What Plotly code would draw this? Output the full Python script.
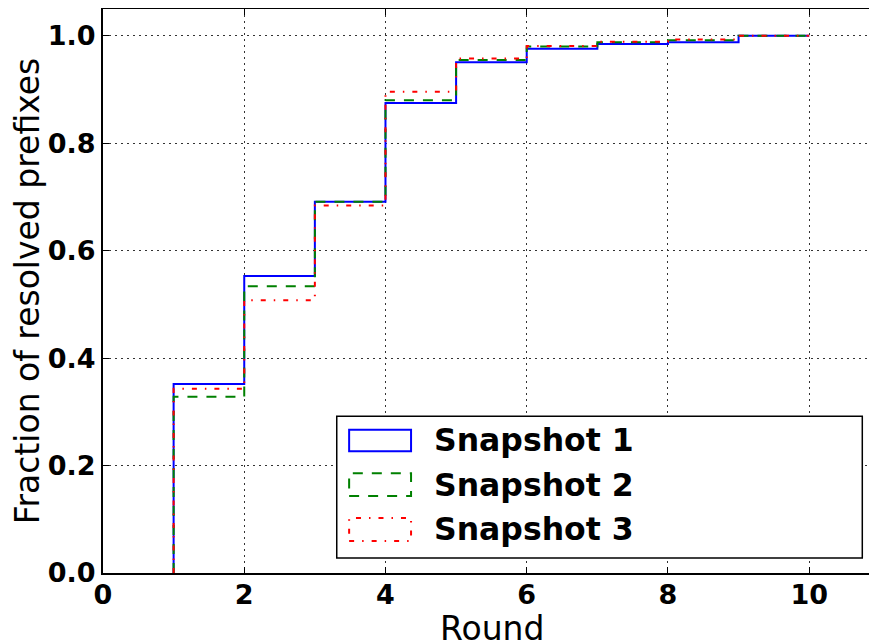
import plotly.graph_objects as go

rounds = [1, 2, 3, 4, 5, 6, 7, 8, 9, 10]
snapshot1 = [0.352, 0.553, 0.691, 0.875, 0.951, 0.976, 0.985, 0.988, 1.0]
snapshot2 = [0.328, 0.534, 0.691, 0.880, 0.955, 0.980, 0.988, 0.992, 1.0]
snapshot3 = [0.343, 0.508, 0.684, 0.896, 0.958, 0.981, 0.989, 0.993, 1.0]
names = ["Snapshot 1", "Snapshot 2", "Snapshot 3"]
colors = ["#0000ff", "#008000", "#ff0000"]
dashes = ["solid", "10px,9px", "5px,8px,1.5px,8px"]
x_ticks = [0, 2, 4, 6, 8, 10]
y_ticks = [0.0, 0.2, 0.4, 0.6, 0.8, 1.0]
x_title = "Round"
y_title = "Fraction of resolved prefixes"

fig = go.Figure()
for name, vals, col, dash in zip(names, [snapshot1, snapshot2, snapshot3], colors, dashes):
    xs = [rounds[0]] + rounds
    ys = [0.0] + vals + [vals[-1]]
    fig.add_trace(go.Scatter(x=xs, y=ys, mode="lines", line_shape="hv", name=name,
                             line=dict(color=col, width=2, dash=dash), showlegend=False))

font_family = "DejaVu Sans"
axis_common = dict(showline=True, linecolor="black", linewidth=2, mirror="ticks",
                   ticks="inside", ticklen=6, tickwidth=1, tickcolor="black",
                   showgrid=True, gridcolor="#333333", gridwidth=1, griddash="1.5px,4.5px",
                   zeroline=False, automargin=False,
                   tickfont=dict(family=font_family, size=27, color="black", weight="bold"))

fig.update_xaxes(range=[0, 10.96], tickvals=x_ticks, ticktext=[str(v) for v in x_ticks],
                 ticklabelstandoff=-3, **axis_common)
fig.update_yaxes(range=[0, 1.05], tickvals=y_ticks, ticktext=["%.1f" % v for v in y_ticks],
                 title=dict(text=y_title, font=dict(family=font_family, size=33, color="black"), standoff=2),
                 **axis_common)

# legend drawn as patches (matplotlib-style rectangles)
shapes = [dict(type="rect", xref="paper", yref="paper", x0=0.302, x1=0.981, y0=0.0266, y1=0.278,
               line=dict(color="black", width=1.5), fillcolor="white", layer="above")]
rows_y = [(0.216, 0.254), (0.1365, 0.177), (0.0567, 0.0975)]
text_y = [0.236, 0.156, 0.078]
annotations = [dict(xref="paper", yref="paper", x=0.503, y=0, xanchor="center", yanchor="top",
                    yshift=-34, text=x_title, showarrow=False,
                    font=dict(family=font_family, size=33, color="black"))]
for (y0, y1), ty, name, col, dash in zip(rows_y, text_y, names, colors, dashes):
    shapes.append(dict(type="rect", xref="paper", yref="paper", x0=0.318, x1=0.398, y0=y0, y1=y1,
                       line=dict(color=col, width=2, dash=dash), fillcolor="rgba(0,0,0,0)", layer="above"))
    annotations.append(dict(xref="paper", yref="paper", x=0.4248, y=ty, xanchor="left", yanchor="middle",
                            text="<b>%s</b>" % name, showarrow=False,
                            font=dict(family=font_family, size=31.5, color="black")))

# the page body adds an 8px offset, so the figure is sized to fit the window
fig.update_layout(width=869, height=632, margin=dict(l=95, r=0, t=1, b=67),
                  plot_bgcolor="white", paper_bgcolor="white",
                  shapes=shapes, annotations=annotations)

fig.write_html("out.html")
